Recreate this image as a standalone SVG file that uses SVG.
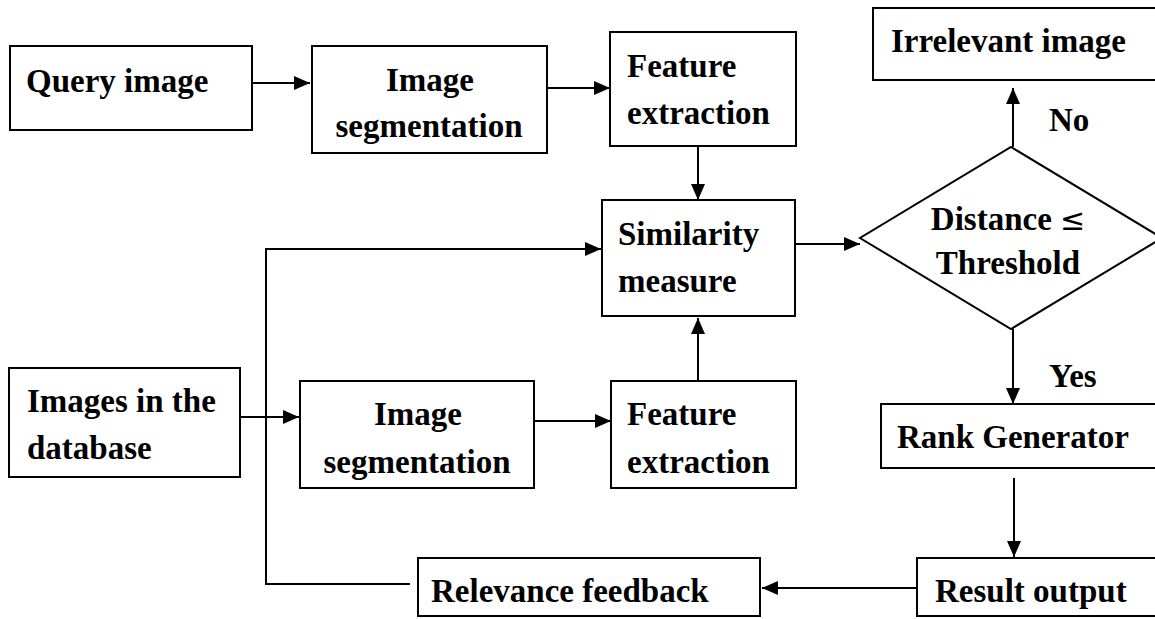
<svg xmlns="http://www.w3.org/2000/svg" width="1155" height="619" viewBox="0 0 1155 619">
  <style>
    .box { fill: #fff; stroke: #000; stroke-width: 2; }
    .lbl { font-family: "Liberation Serif", "Times New Roman", serif; font-weight: bold; font-size: 33px; fill: #000; }
    .mid { text-anchor: middle; }
    .edge { fill: none; stroke: #000; stroke-width: 2; }
  </style>
  <defs>
    <marker id="arrow" viewBox="0 0 16 14" refX="16" refY="7" markerWidth="16" markerHeight="14" markerUnits="userSpaceOnUse" orient="auto">
      <path d="M0,0 L16,7 L0,14 Z" fill="#000"/>
    </marker>
  </defs>
  <rect width="1155" height="619" fill="#fff"/>

  <g id="query-image">
    <rect class="box" x="10" y="46" width="242" height="84"/>
    <text class="lbl" x="26" y="92">Query image</text>
  </g>
  <g id="segmentation-query">
    <rect class="box" x="312" y="46" width="235" height="107"/>
    <text class="lbl mid" x="430" y="91">Image</text>
    <text class="lbl mid" x="429" y="137">segmentation</text>
  </g>
  <g id="features-query">
    <rect class="box" x="610" y="32" width="186" height="114"/>
    <text class="lbl" x="627" y="77">Feature</text>
    <text class="lbl" x="627" y="124">extraction</text>
  </g>
  <g id="similarity">
    <rect class="box" x="602" y="200" width="193" height="116"/>
    <text class="lbl" x="618" y="245">Similarity</text>
    <text class="lbl" x="618" y="292">measure</text>
  </g>
  <g id="decision">
    <polygon class="box" points="1011,147 1162,238 1011,329 860,238"/>
    <text class="lbl mid" x="1008" y="230">Distance <tspan font-weight="normal" font-family="'DejaVu Sans', sans-serif" font-size="30">≤</tspan></text>
    <text class="lbl mid" x="1008" y="274">Threshold</text>
  </g>
  <g id="irrelevant">
    <rect class="box" x="873" y="8" width="290" height="72"/>
    <text class="lbl" x="891" y="52">Irrelevant image</text>
  </g>
  <g id="rank-generator">
    <rect class="box" x="881" y="404" width="282" height="64"/>
    <text class="lbl" x="897" y="448">Rank Generator</text>
  </g>
  <g id="result-output">
    <rect class="box" x="917" y="558" width="246" height="58"/>
    <text class="lbl" x="935" y="602">Result output</text>
  </g>
  <g id="relevance-feedback">
    <rect class="box" x="418" y="558" width="342" height="58"/>
    <text class="lbl" x="431" y="602">Relevance feedback</text>
  </g>
  <g id="database">
    <rect class="box" x="9" y="368" width="231" height="109"/>
    <text class="lbl" x="27" y="412">Images in the</text>
    <text class="lbl" x="27" y="459">database</text>
  </g>
  <g id="segmentation-db">
    <rect class="box" x="300" y="381" width="234" height="107"/>
    <text class="lbl mid" x="418" y="425">Image</text>
    <text class="lbl mid" x="417" y="473">segmentation</text>
  </g>
  <g id="features-db">
    <rect class="box" x="611" y="381" width="185" height="107"/>
    <text class="lbl" x="627" y="425">Feature</text>
    <text class="lbl" x="627" y="473">extraction</text>
  </g>

  <g id="connectors">
    <path class="edge" d="M252,83 H310" marker-end="url(#arrow)"/>
    <path class="edge" d="M547,88 H610" marker-end="url(#arrow)"/>
    <path class="edge" d="M698,146 V200" marker-end="url(#arrow)"/>
    <path class="edge" d="M698,381 V318" marker-end="url(#arrow)"/>
    <path class="edge" d="M795,244 H860" marker-end="url(#arrow)"/>
    <path class="edge" d="M1013,147 V88" marker-end="url(#arrow)"/>
    <path class="edge" d="M1013,329 V404" marker-end="url(#arrow)"/>
    <path class="edge" d="M1014,478 V557" marker-end="url(#arrow)"/>
    <path class="edge" d="M917,588 H762" marker-end="url(#arrow)"/>
    <path class="edge" d="M410,584 H266 V249 H601" marker-end="url(#arrow)"/>
    <path class="edge" d="M240,417 H299" marker-end="url(#arrow)"/>
    <path class="edge" d="M534,421 H611" marker-end="url(#arrow)"/>
    <text class="lbl" x="1049" y="131">No</text>
    <text class="lbl" x="1049" y="387">Yes</text>
  </g>
</svg>
